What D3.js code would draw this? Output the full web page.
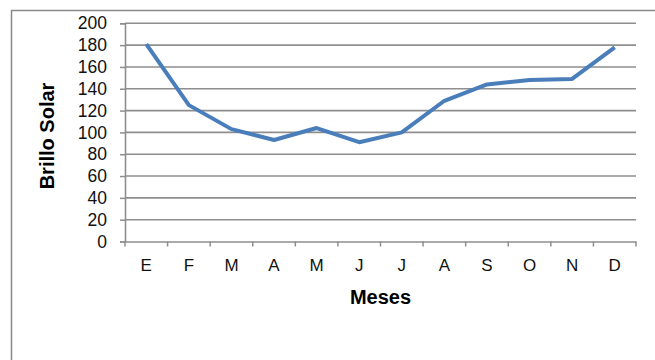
<!DOCTYPE html>
<html><head><meta charset="utf-8">
<script src="https://cdn.jsdelivr.net/npm/d3@7"></script>
<style>
html,body{margin:0;padding:0;background:#fff;}
svg{display:block;font-family:"Liberation Sans",Arial,sans-serif;}
</style></head>
<body><svg id="c" width="655" height="360"></svg>
<script>
const months = ["E","F","M","A","M","J","J","A","S","O","N","D"];
const values = [181,125,103,93,104,91,100,129,144,148,149,178];
const yTicks = [0,20,40,60,80,100,120,140,160,180,200];
const xTitle = "Meses";
const yTitle = "Brillo Solar";

const svg = d3.select("#c");
const L = 125, R = 636, T = 23.3, B = 241.5;
const x = d3.scaleBand().domain(d3.range(months.length)).range([L, R]).padding(0);
const y = d3.scaleLinear().domain([0, 200]).range([B, T]);

// outer frame
svg.append("rect").attr("x", 11.5).attr("y", 10.5).attr("width", 700).attr("height", 400)
  .attr("fill", "none").attr("stroke", "#8a8a8a").attr("stroke-width", 1.5);

// gridlines
svg.append("g").selectAll("line").data(yTicks.filter(d => d > 0)).join("line")
  .attr("x1", L).attr("x2", R).attr("y1", d => y(d)).attr("y2", d => y(d))
  .attr("stroke", "#8e8e8e").attr("stroke-width", 1.6);

// y axis
const yAxis = d3.axisLeft(y).tickValues(yTicks).tickSize(5).tickPadding(13);
const gy = svg.append("g").attr("transform", `translate(${L},0)`).call(yAxis);
gy.select(".domain").attr("stroke", "#8e8e8e").attr("stroke-width", 1.6);
gy.selectAll(".tick line").attr("stroke", "#8e8e8e").attr("stroke-width", 1.5);
gy.selectAll(".tick text").attr("font-size", 17.5).attr("fill", "#111")
  .attr("font-family", "Liberation Sans, Arial, sans-serif");

// x axis
const xAxis = d3.axisBottom(x).tickFormat(i => months[i]).tickSize(0).tickPadding(17);
const gx = svg.append("g").attr("transform", `translate(0,${B})`).call(xAxis);
gx.select(".domain").attr("stroke", "#8e8e8e").attr("stroke-width", 1.6);
gx.selectAll(".tick text").attr("font-size", 17).attr("fill", "#111")
  .attr("font-family", "Liberation Sans, Arial, sans-serif");
// boundary ticks
const bounds = d3.range(months.length + 1).map(i => i < months.length ? x(i) : R);
gx.append("g").selectAll("line").data(bounds).join("line")
  .attr("x1", d => d).attr("x2", d => d).attr("y1", 0).attr("y2", 5)
  .attr("stroke", "#8e8e8e").attr("stroke-width", 1.5);

// line
const line = d3.line().x((d, i) => x(i) + x.bandwidth() / 2).y(d => y(d));
svg.append("path").datum(values).attr("d", line)
  .attr("fill", "none").attr("stroke", "#4a7ebb").attr("stroke-width", 4)
  .attr("stroke-linejoin", "round");

// titles
svg.append("text").attr("x", (L + R) / 2).attr("y", 304).attr("text-anchor", "middle")
  .attr("font-size", 20).attr("font-weight", "bold").attr("fill", "#000").text(xTitle);
svg.append("text").attr("transform", "translate(54,136) rotate(-90)").attr("text-anchor", "middle")
  .attr("font-size", 20).attr("font-weight", "bold").attr("fill", "#000").text(yTitle);
</script></body></html>
